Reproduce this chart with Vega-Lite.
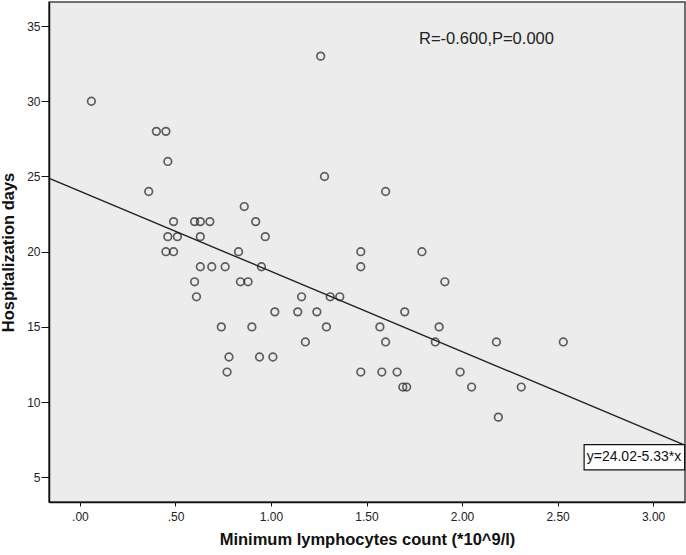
{
  "$schema": "https://vega.github.io/schema/vega-lite/v6.json",
  "width": 636,
  "height": 500,
  "autosize": {"type": "none"},
  "padding": {"left": 49, "top": 2, "right": 1, "bottom": 53},
  "background": "white",
  "config": {
    "view": {"fill": "#ececec", "stroke": "#444444", "strokeWidth": 1.5},
    "font": "Liberation Sans",
    "axis": {
      "grid": false,
      "domainColor": "#111111",
      "domainWidth": 1.5,
      "tickColor": "#111111",
      "labelColor": "#222222",
      "titleColor": "#111111",
      "labelFont": "Liberation Sans",
      "titleFont": "Liberation Sans",
      "labelFontSize": 12,
      "titleFontSize": 16.5,
      "titleFontWeight": "bold"
    }
  },
  "datasets": {
    "points": [
      {"lymph": 0.06, "days": 30}, {"lymph": 0.40, "days": 28}, {"lymph": 0.45, "days": 28},
      {"lymph": 0.46, "days": 26}, {"lymph": 0.36, "days": 24}, {"lymph": 0.49, "days": 22},
      {"lymph": 0.60, "days": 22}, {"lymph": 0.63, "days": 22}, {"lymph": 0.68, "days": 22},
      {"lymph": 0.46, "days": 21}, {"lymph": 0.51, "days": 21}, {"lymph": 0.63, "days": 21},
      {"lymph": 0.45, "days": 20}, {"lymph": 0.49, "days": 20}, {"lymph": 0.86, "days": 23},
      {"lymph": 0.92, "days": 22}, {"lymph": 0.97, "days": 21}, {"lymph": 0.83, "days": 20},
      {"lymph": 0.63, "days": 19}, {"lymph": 0.69, "days": 19}, {"lymph": 0.76, "days": 19},
      {"lymph": 0.95, "days": 19}, {"lymph": 1.26, "days": 33}, {"lymph": 1.28, "days": 25},
      {"lymph": 0.60, "days": 18}, {"lymph": 0.61, "days": 17}, {"lymph": 0.84, "days": 18},
      {"lymph": 0.88, "days": 18}, {"lymph": 0.74, "days": 15}, {"lymph": 0.90, "days": 15},
      {"lymph": 0.78, "days": 13}, {"lymph": 0.77, "days": 12}, {"lymph": 0.94, "days": 13},
      {"lymph": 1.01, "days": 13}, {"lymph": 1.16, "days": 17}, {"lymph": 1.14, "days": 16},
      {"lymph": 1.02, "days": 16}, {"lymph": 1.24, "days": 16}, {"lymph": 1.18, "days": 14},
      {"lymph": 1.29, "days": 15}, {"lymph": 1.31, "days": 17}, {"lymph": 1.36, "days": 17},
      {"lymph": 1.47, "days": 20}, {"lymph": 1.79, "days": 20}, {"lymph": 1.47, "days": 19},
      {"lymph": 1.91, "days": 18}, {"lymph": 1.70, "days": 16}, {"lymph": 1.57, "days": 15},
      {"lymph": 1.88, "days": 15}, {"lymph": 1.60, "days": 14}, {"lymph": 1.86, "days": 14},
      {"lymph": 1.47, "days": 12}, {"lymph": 1.58, "days": 12}, {"lymph": 1.66, "days": 12},
      {"lymph": 1.99, "days": 12}, {"lymph": 1.69, "days": 11}, {"lymph": 1.71, "days": 11},
      {"lymph": 2.05, "days": 11}, {"lymph": 2.18, "days": 14}, {"lymph": 2.53, "days": 14},
      {"lymph": 2.31, "days": 11}, {"lymph": 2.19, "days": 9}, {"lymph": 1.60, "days": 24}
    ],
    "fit": [
      {"lymph": -0.2, "days": 25.086},
      {"lymph": 3.2, "days": 6.964}
    ],
    "stat": [
      {"lymph": 1.775, "days": 34.13, "label": "R=-0.600,P=0.000"}
    ],
    "eqbox": [
      {"x1": 2.639, "x2": 3.165, "y1": 5.5, "y2": 7.17, "xc": 2.90, "yc": 6.34, "label": "y=24.02-5.33*x"}
    ]
  },
  "layer": [
    {
      "data": {"name": "fit"},
      "mark": {"type": "line", "color": "#222222", "strokeWidth": 1.4, "clip": true},
      "encoding": {
        "x": {
          "field": "lymph", "type": "quantitative",
          "scale": {"domain": [-0.162, 3.167], "nice": false, "zero": false},
          "axis": {
            "values": [0, 0.5, 1, 1.5, 2, 2.5, 3],
            "labelExpr": "datum.value < 1 ? substring(format(datum.value, '.2f'), 1) : format(datum.value, '.2f')",
            "tickSize": 4,
            "labelPadding": 5,
            "titlePadding": 9,
            "title": "Minimum lymphocytes count (*10^9/l)"
          }
        },
        "y": {
          "field": "days", "type": "quantitative",
          "scale": {"domain": [3.36, 36.6], "nice": false, "zero": false},
          "axis": {
            "values": [5, 10, 15, 20, 25, 30, 35],
            "tickSize": 8,
            "labelPadding": 1,
            "titlePadding": 10,
            "title": "Hospitalization days"
          }
        }
      }
    },
    {
      "data": {"name": "points"},
      "mark": {"type": "point", "shape": "circle", "filled": false, "stroke": "#222222", "strokeWidth": 1.7, "size": 58},
      "encoding": {
        "x": {"field": "lymph", "type": "quantitative"},
        "y": {"field": "days", "type": "quantitative"}
      }
    },
    {
      "data": {"name": "stat"},
      "mark": {"type": "text", "align": "left", "baseline": "middle", "fontSize": 16.5, "color": "#222222", "font": "Liberation Sans"},
      "encoding": {
        "x": {"field": "lymph", "type": "quantitative"},
        "y": {"field": "days", "type": "quantitative"},
        "text": {"field": "label"}
      }
    },
    {
      "data": {"name": "eqbox"},
      "mark": {"type": "rect", "fill": "white", "stroke": "#111111", "strokeWidth": 1.2},
      "encoding": {
        "x": {"field": "x1", "type": "quantitative"},
        "x2": {"field": "x2"},
        "y": {"field": "y1", "type": "quantitative"},
        "y2": {"field": "y2"}
      }
    },
    {
      "data": {"name": "eqbox"},
      "mark": {"type": "text", "align": "center", "baseline": "middle", "fontSize": 14, "color": "#111111", "font": "Liberation Sans"},
      "encoding": {
        "x": {"field": "xc", "type": "quantitative"},
        "y": {"field": "yc", "type": "quantitative"},
        "text": {"field": "label"}
      }
    }
  ]
}
